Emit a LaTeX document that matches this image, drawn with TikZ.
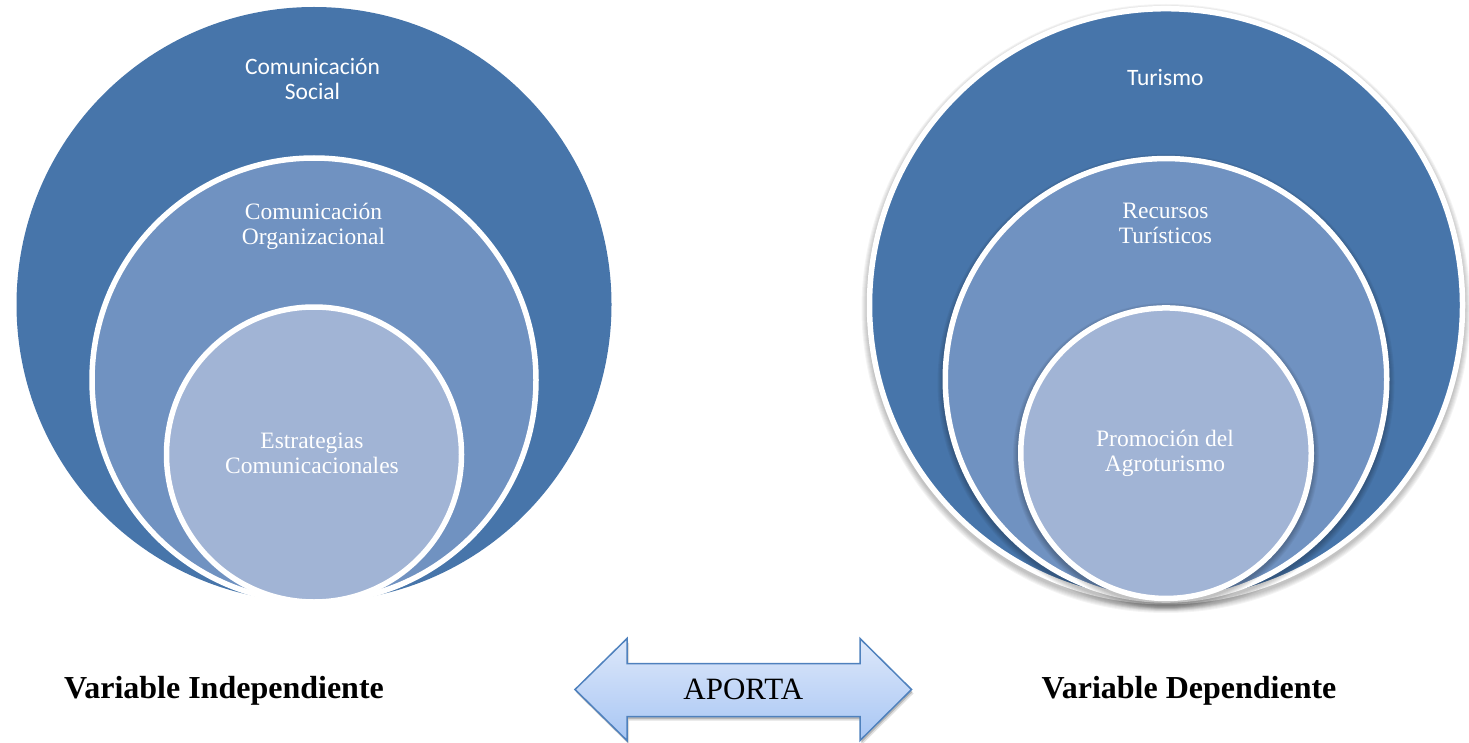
\documentclass[tikz,border=0pt]{standalone}
\usepackage{fontspec}
\setmainfont{Liberation Serif}
\newfontfamily\calfont{Carlito}
\definecolor{outerblue}{HTML}{4775AA}
\definecolor{midblue}{HTML}{7092C1}
\definecolor{innerblue}{HTML}{A1B4D5}
\definecolor{arrowline}{HTML}{4F81BD}
\definecolor{arrowtop}{HTML}{DDE8FA}
\definecolor{arrowbot}{HTML}{A8C6F4}
\begin{document}
\begin{tikzpicture}[x=1pt,y=-1pt,
  disc/.style={circle, inner sep=0pt, outer sep=0pt},
  ring/.style={disc, draw=white, line width=5.5pt},
  sanslbl/.style={text=white, align=center, anchor=base, font=\calfont\fontsize{23.5}{25}\selectfont},
  seriflbl/.style={text=white, align=center, anchor=base, font=\fontsize{23.5}{25}\selectfont},
  varlbl/.style={anchor=base, font=\bfseries\fontsize{32}{36}\selectfont},
  arrowshape/.style={insert path={(575,689.5) -- (627,638.5) -- (627,663.5) -- (860,663.5) -- (860,638.5) -- (911.5,689.5) -- (860,740.5) -- (860,716.5) -- (627,716.5) -- (627,740.5) -- cycle}}
]
\useasboundingbox (0,0) rectangle (1469,743);

% ---------- left set ----------
\node[disc, fill=outerblue, minimum size=595] (LO) at (314,304.5) {};
\node[ring, fill=midblue, minimum size=444] (LM) at (314,380) {};
\node[ring, fill=innerblue, minimum size=295] (LI) at (314,454.5) {};

\node[sanslbl] (tLO) at (312.5,99.3) {Comunicación\\Social};
\node[seriflbl] (tLM) at (313.5,244.3) {Comunicación\\Organizacional};
\node[seriflbl] (tLI) at (312,473.3) {Estrategias\\Comunicacionales};

% ---------- right set ----------
\foreach \k in {0,...,5} \fill[black, opacity=0.045] (1166,308.5) circle[radius={299.5pt+\k pt}];
\node[ring, fill=outerblue, minimum size=593] (RO) at (1166,305.2) {};
\foreach \k in {0,...,5} \fill[black, opacity=0.045] (1166,382.5) circle[radius={223.5pt+\k pt}];
\node[ring, fill=midblue, minimum size=441.5] (RM) at (1166,379.3) {};
\foreach \k in {0,...,5} \fill[black, opacity=0.045] (1166,456) circle[radius={148pt+\k pt}];
\node[ring, fill=innerblue, minimum size=290.5] (RI) at (1166,453.2) {};

\node[sanslbl] (tRO) at (1165.3,85.7) {Turismo};
\node[seriflbl] (tRM) at (1165.5,243.3) {Recursos\\Turísticos};
\node[seriflbl] (tRI) at (1165,471.7) {Promoción del\\Agroturismo};

% ---------- arrow ----------
\fill[black, opacity=0.12, shift={(2,4)}, arrowshape];
\fill[black, opacity=0.18, shift={(1,2.5)}, arrowshape];
\path[draw=arrowline, line width=1.5pt, line join=miter, top color=arrowtop, bottom color=arrowbot, arrowshape];
\node[anchor=base, font=\fontsize{31}{34}\selectfont] (aporta) at (743.3,699) {APORTA};

% ---------- variable labels ----------
\node[varlbl] (vind) at (224,698) {Variable Independiente};
\node[varlbl] (vdep) at (1189,698) {Variable Dependiente};
\end{tikzpicture}
\end{document}
